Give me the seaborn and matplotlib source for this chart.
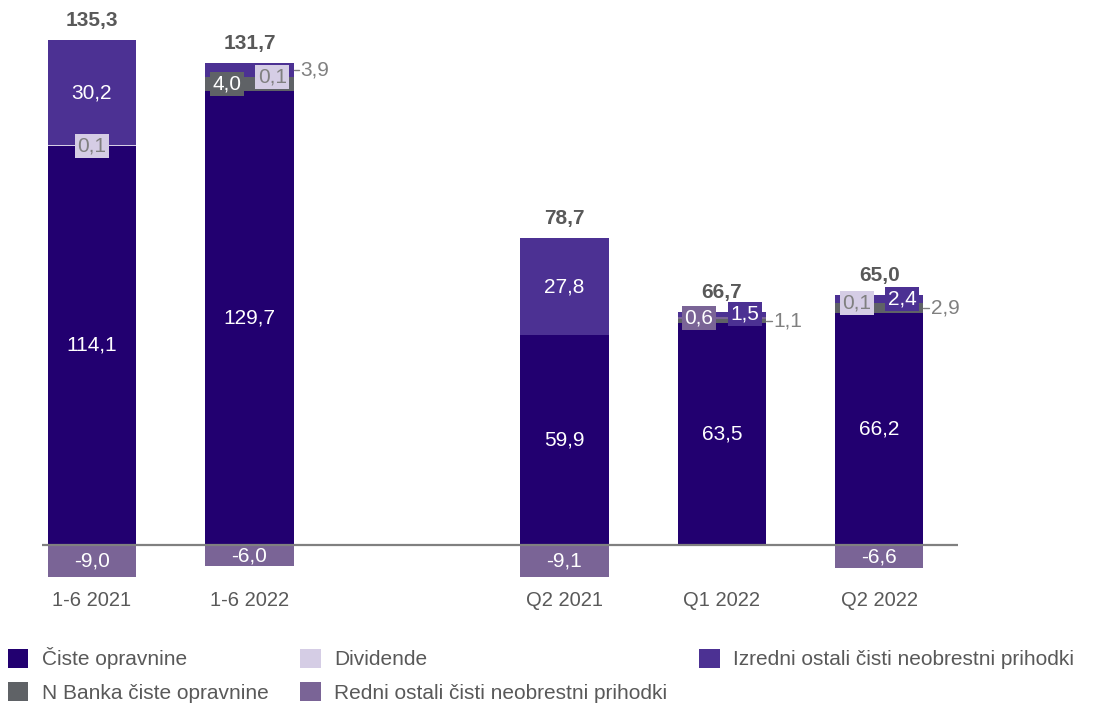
import matplotlib

matplotlib.use("Agg")
import matplotlib.pyplot as plt  # noqa: E402
import numpy as np  # noqa: E402
import seaborn as sns  # noqa: E402
from matplotlib.patches import Patch  # noqa: E402

# --------------------------------------------------------------------------- #
# Data (EUR mio)                                                              #
# --------------------------------------------------------------------------- #
categories = ["1-6 2021", "1-6 2022", "Q2 2021", "Q1 2022", "Q2 2022"]
slots = ["1-6 2021", "1-6 2022", "", "Q2 2021", "Q1 2022", "Q2 2022"]

ciste = [114.1, 129.7, 59.9, 63.5, 66.2]
n_banka = [0.0, 4.0, 0.0, 1.1, 2.9]
dividende = [0.1, 0.1, 0.0, 0.0, 0.1]
redni = [-9.0, -6.0, -9.1, 0.6, -6.6]
izredni = [30.2, 3.9, 27.8, 1.5, 2.4]
totals = [135.3, 131.7, 78.7, 66.7, 65.0]

S_CISTE = "Čiste opravnine"
S_NBANKA = "N Banka čiste opravnine"
S_DIV = "Dividende"
S_REDNI = "Redni ostali čisti neobrestni prihodki"
S_IZR = "Izredni ostali čisti neobrestni prihodki"

# stacking order (bottom -> top)
series = [(S_CISTE, ciste), (S_NBANKA, n_banka), (S_DIV, dividende),
          (S_REDNI, redni), (S_IZR, izredni)]

colors = {S_CISTE: "#220070", S_NBANKA: "#5f6266", S_DIV: "#d5cde5",
          S_REDNI: "#7a6496", S_IZR: "#4c3193"}
text_on = {S_CISTE: "white", S_NBANKA: "white", S_DIV: "#808080",
           S_REDNI: "white", S_IZR: "white"}

# how small segments get labelled: left/right box, centred box, or outside
placement = {
    ("1-6 2021", S_DIV): "box",
    ("1-6 2022", S_NBANKA): "left", ("1-6 2022", S_DIV): "right", ("1-6 2022", S_IZR): "out",
    ("Q1 2022", S_REDNI): "left", ("Q1 2022", S_IZR): "right", ("Q1 2022", S_NBANKA): "out",
    ("Q2 2022", S_DIV): "left", ("Q2 2022", S_IZR): "right", ("Q2 2022", S_NBANKA): "out",
}

GREY = "#595959"
LIGHT = "#808080"
FS = 15
W = 0.56


def fmt(v):
    return f"{v:.1f}".replace(".", ",")


sns.set_theme(style="white")
plt.rcParams["font.family"] = ["Liberation Sans", "DejaVu Sans"]

fig = plt.figure(figsize=(10.95, 7.06), dpi=100)
ax = fig.add_axes([0.0384, 0.1714, 0.8366, 0.8144])

xpos = np.array([slots.index(c) for c in categories], dtype=float)
pos_bottom = np.zeros(len(categories))
neg_bottom = np.zeros(len(categories))
segments = {}
for name, vals in series:
    v = np.asarray(vals, dtype=float)
    bottom = np.where(v >= 0, pos_bottom, neg_bottom)
    sns.barplot(x=categories, y=v, order=slots, bottom=bottom, color=colors[name],
                width=W, saturation=1, errorbar=None, linewidth=0, ax=ax)
    segments[name] = (bottom, v)
    pos_bottom = pos_bottom + np.clip(v, 0, None)
    neg_bottom = neg_bottom + np.clip(v, None, 0)

# segment labels
box = dict(boxstyle="square,pad=0.12", ec="none")
for name, _ in series:
    bottom, v = segments[name]
    for i, cat in enumerate(categories):
        if v[i] == 0:
            continue
        x = xpos[i]
        y = bottom[i] + v[i] / 2
        mode = placement.get((cat, name), "center")
        if mode == "center":
            ax.text(x, y, fmt(v[i]), ha="center", va="center", color="white",
                    fontsize=FS, zorder=5)
        elif mode == "out":
            edge = x + W / 2
            ax.plot([edge, edge + 0.035], [y, y], color=LIGHT, lw=1, zorder=5)
            ax.text(edge + 0.045, y, fmt(v[i]), ha="left", va="center", color=LIGHT,
                    fontsize=FS, zorder=5)
        else:
            dx = {"box": 0.0, "left": -0.145, "right": 0.145}[mode]
            ax.text(x + dx, y, fmt(v[i]), ha="center", va="center", color=text_on[name],
                    fontsize=FS, zorder=6, bbox={**box, "fc": colors[name]})

# totals
for i, t in enumerate(totals):
    ax.annotate(fmt(t), (xpos[i], pos_bottom[i]), xytext=(0, 14), textcoords="offset points",
                ha="center", va="center", fontsize=FS, fontweight="bold", color=GREY, zorder=6)

ax.axhline(0, color=LIGHT, lw=1.6, zorder=4)
ax.set_xlim(-0.317, 5.5)
ax.set_ylim(-11.4, 152.9)
ax.set_yticks([])
ax.set_xlabel("")
ax.set_ylabel("")
ax.tick_params(axis="x", length=0, labelsize=14.5, labelcolor=GREY, pad=4)
sns.despine(ax=ax, left=True, bottom=True)

order = [S_CISTE, S_NBANKA, S_DIV, S_REDNI, S_IZR]
handles = [Patch(fc=colors[n], ec="none") for n in order]
leg = fig.legend(handles, order, ncol=3, loc="upper left", bbox_to_anchor=(0.007, 0.083),
                 frameon=False, fontsize=FS, handlelength=1.0, handleheight=1.0,
                 handletextpad=0.65, columnspacing=1.5, labelspacing=0.62, borderpad=0,
                 borderaxespad=0)
for txt in leg.get_texts():
    txt.set_color(GREY)

fig.savefig("out.png", dpi=100)
